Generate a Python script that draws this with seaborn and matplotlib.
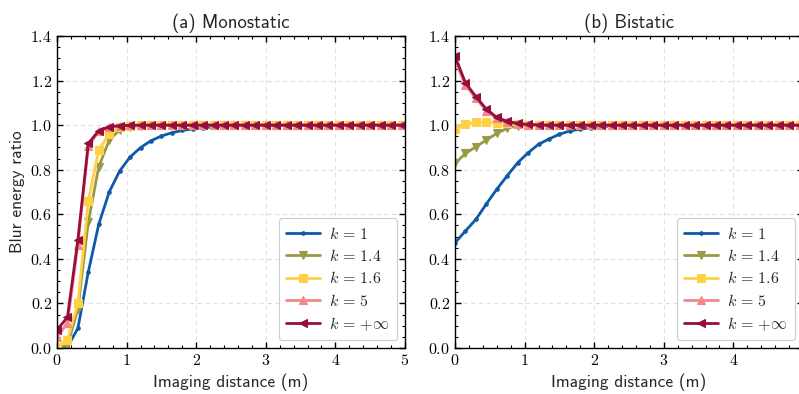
import numpy as np
import pandas as pd
import matplotlib
matplotlib.use("Agg")
import matplotlib.pyplot as plt
import seaborn as sns
from matplotlib.ticker import MultipleLocator, FuncFormatter

# ---------------- data ----------------
distance = [0.0, 0.15, 0.3, 0.45, 0.6, 0.75, 0.9, 1.05, 1.2, 1.35, 1.5, 1.65,
            1.8, 1.95, 2.1, 2.25, 2.4, 2.55, 2.7, 2.85, 3.0, 3.15, 3.3, 3.45,
            3.6, 3.75, 3.9, 4.05, 4.2, 4.35, 4.5, 4.65, 4.8, 4.95]

labels = [r"$k\,=\,1$", r"$k\,=\,1.4$", r"$k\,=\,1.6$", r"$k\,=\,5$",
          r"$k\,=\,{+}\infty$"]

mono_k1 = [0.005, 0.005, 0.088, 0.342, 0.555, 0.700, 0.794, 0.857, 0.899, 0.930,
           0.951, 0.966, 0.976, 0.983, 0.988, 0.992, 0.995, 0.997, 0.998, 0.999,
           1.0, 1.0, 1.0, 1.0, 1.0, 1.0, 1.0, 1.0, 1.0, 1.0, 1.0, 1.0, 1.0, 1.0]
mono_k14 = [0.0, 0.012, 0.174, 0.565, 0.813, 0.933, 0.978, 0.993, 0.998, 0.999,
            1.0, 1.0, 1.0, 1.0, 1.0, 1.0, 1.0, 1.0, 1.0, 1.0, 1.0, 1.0, 1.0, 1.0,
            1.0, 1.0, 1.0, 1.0, 1.0, 1.0, 1.0, 1.0, 1.0, 1.0]
mono_k16 = [0.005, 0.036, 0.200, 0.661, 0.888, 0.960, 0.990, 0.998, 0.999,
            1.0, 1.0, 1.0, 1.0, 1.0, 1.0, 1.0, 1.0, 1.0, 1.0, 1.0, 1.0, 1.0, 1.0,
            1.0, 1.0, 1.0, 1.0, 1.0, 1.0, 1.0, 1.0, 1.0, 1.0, 1.0]
mono_k5 = [0.050, 0.110, 0.462, 0.905, 0.972, 0.990, 0.997, 0.999,
           1.0, 1.0, 1.0, 1.0, 1.0, 1.0, 1.0, 1.0, 1.0, 1.0, 1.0, 1.0, 1.0, 1.0,
           1.0, 1.0, 1.0, 1.0, 1.0, 1.0, 1.0, 1.0, 1.0, 1.0, 1.0, 1.0]
mono_kinf = [0.081, 0.138, 0.485, 0.918, 0.975, 0.993, 0.998, 0.999,
             1.0, 1.0, 1.0, 1.0, 1.0, 1.0, 1.0, 1.0, 1.0, 1.0, 1.0, 1.0, 1.0, 1.0,
             1.0, 1.0, 1.0, 1.0, 1.0, 1.0, 1.0, 1.0, 1.0, 1.0, 1.0, 1.0]

bi_k1 = [0.472, 0.525, 0.577, 0.646, 0.712, 0.773, 0.831, 0.876, 0.914, 0.938,
         0.959, 0.974, 0.982, 0.988, 0.993, 0.996, 0.998, 0.999,
         1.0, 1.0, 1.0, 1.0, 1.0, 1.0, 1.0, 1.0, 1.0, 1.0, 1.0, 1.0, 1.0, 1.0,
         1.0, 1.0]
bi_k14 = [0.828, 0.873, 0.903, 0.933, 0.963, 0.986, 0.997,
          1.0, 1.0, 1.0, 1.0, 1.0, 1.0, 1.0, 1.0, 1.0, 1.0, 1.0, 1.0, 1.0, 1.0,
          1.0, 1.0, 1.0, 1.0, 1.0, 1.0, 1.0, 1.0, 1.0, 1.0, 1.0, 1.0, 1.0]
bi_k16 = [0.982, 1.005, 1.013, 1.015, 1.011, 1.008, 1.004, 1.002, 1.001,
          1.0, 1.0, 1.0, 1.0, 1.0, 1.0, 1.0, 1.0, 1.0, 1.0, 1.0, 1.0, 1.0, 1.0,
          1.0, 1.0, 1.0, 1.0, 1.0, 1.0, 1.0, 1.0, 1.0, 1.0, 1.0]
bi_k5 = [1.29, 1.18, 1.12, 1.065, 1.03, 1.013, 1.005, 1.002, 1.001,
         1.0, 1.0, 1.0, 1.0, 1.0, 1.0, 1.0, 1.0, 1.0, 1.0, 1.0, 1.0, 1.0, 1.0,
         1.0, 1.0, 1.0, 1.0, 1.0, 1.0, 1.0, 1.0, 1.0, 1.0, 1.0]
bi_kinf = [1.31, 1.19, 1.128, 1.072, 1.035, 1.017, 1.008, 1.003, 1.001,
           1.0, 1.0, 1.0, 1.0, 1.0, 1.0, 1.0, 1.0, 1.0, 1.0, 1.0, 1.0, 1.0, 1.0,
           1.0, 1.0, 1.0, 1.0, 1.0, 1.0, 1.0, 1.0, 1.0, 1.0, 1.0]

titles = ["(a) Monostatic", "(b) Bistatic"]
xlabel = "Imaging distance (m)"
ylabel = "Blur energy ratio"

# ---------------- style ----------------
colors = ["#0F5AA6", "#9A9A45", "#FFD246", "#F2888A", "#960F3C"]
markers = [".", "v", "s", "^", "<"]
msizes = [5, 6, 6, 6, 6]

sns.set_style("ticks")
plt.rcParams["mathtext.fontset"] = "cm"
plt.rcParams["font.family"] = ["cmss10", "DejaVu Sans"]
plt.rcParams["axes.unicode_minus"] = False

fig = plt.figure(figsize=(7.99, 3.94), dpi=100)
ax_l = fig.add_axes([57 / 799, 1 - 348 / 394, 348 / 799, 312 / 394])
ax_r = fig.add_axes([455 / 799, 1 - 348 / 394, 348 / 799, 312 / 394])

panels = [
    (ax_l, [mono_k1, mono_k14, mono_k16, mono_k5, mono_kinf]),
    (ax_r, [bi_k1, bi_k14, bi_k16, bi_k5, bi_kinf]),
]


def xfmt_full(v, p):
    return r"$%d$" % round(v)


def xfmt_clip(v, p):
    # the reference's right panel runs past the image edge: its "5" is not seen
    return "" if round(v) >= 5 else r"$%d$" % round(v)


for i, (ax, series) in enumerate(panels):
    for vals, lab, c, m, ms in zip(series, labels, colors, markers, msizes):
        df = pd.DataFrame({"distance": distance, "ratio": vals})
        sns.lineplot(data=df, x="distance", y="ratio", ax=ax, color=c,
                     marker=m, markersize=ms, markeredgecolor=c,
                     markeredgewidth=0.8, linewidth=2.0, label=lab)
    ax.set_xlim(0, 5)
    ax.set_ylim(0, 1.4)
    ax.xaxis.set_major_locator(MultipleLocator(1))
    ax.xaxis.set_minor_locator(MultipleLocator(0.2))
    ax.yaxis.set_major_locator(MultipleLocator(0.2))
    ax.yaxis.set_minor_locator(MultipleLocator(0.05))
    ax.xaxis.set_major_formatter(FuncFormatter(xfmt_full if i == 0 else xfmt_clip))
    ax.yaxis.set_major_formatter(FuncFormatter(lambda v, p: r"$%.1f$" % v))
    ax.tick_params(which="both", direction="in", top=True, right=True,
                   colors="black", labelsize=11.5)
    ax.tick_params(which="major", length=4, width=1.0)
    ax.tick_params(which="minor", length=2.2, width=0.8)
    for s in ax.spines.values():
        s.set_linewidth(1.0)
        s.set_color("black")
    ax.grid(True, which="major", linestyle=(0, (4, 3)), color="#e0e0e0",
            linewidth=0.8)
    ax.set_axisbelow(True)
    ax.set_title(titles[i], fontsize=13.5, pad=6)
    ax.set_xlabel(xlabel, fontsize=12.5, labelpad=4)
    ax.set_ylabel(ylabel if i == 0 else "", fontsize=12.5)
    leg = ax.legend(loc="lower right", fontsize=11.5, frameon=True, fancybox=True,
                    framealpha=1, edgecolor="#cccccc", handlelength=2.1,
                    borderpad=0.45, labelspacing=0.4, borderaxespad=0.5,
                    handletextpad=0.6)
    leg.get_frame().set_linewidth(0.8)

fig.savefig("out.png", dpi=100)
